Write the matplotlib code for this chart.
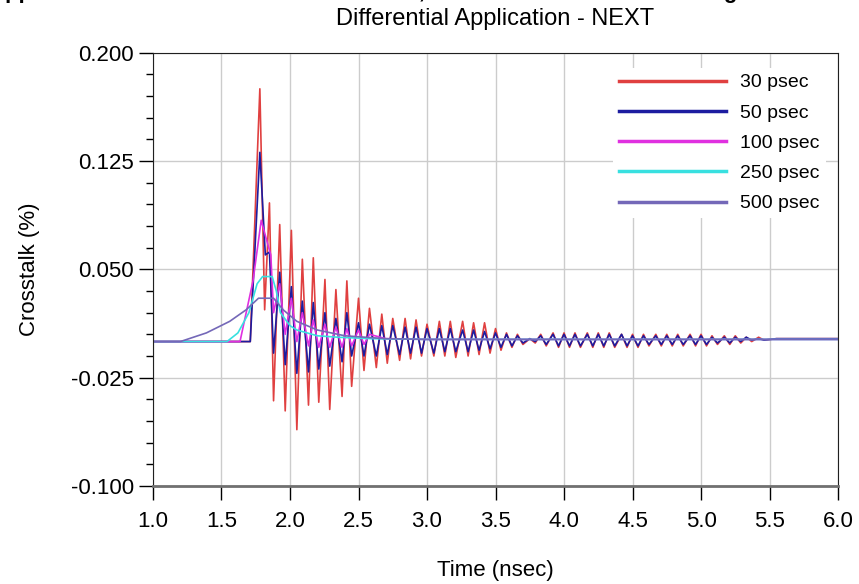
import matplotlib
matplotlib.use('Agg')
import matplotlib.pyplot as plt
from matplotlib.ticker import FixedLocator, FormatStrFormatter
import numpy as np

plt.rcParams['font.family'] = ['Liberation Sans', 'DejaVu Sans']

#%% data (time in nsec, crosstalk in %)
t_30 = [1.00, 1.71, 1.78, 1.815, 1.85, 1.88, 1.925, 1.965, 2.01, 2.05, 2.09, 2.135,
        2.17, 2.21, 2.255, 2.29, 2.335, 2.38, 2.415, 2.45, 2.50, 2.54, 2.58, 2.63,
        2.67, 2.71, 2.75, 2.80, 2.84, 2.88, 2.92, 2.96, 3.00, 3.05, 3.09, 3.13,
        3.17, 3.21, 3.26, 3.30, 3.34, 3.38, 3.42, 3.46, 3.50, 3.54]
v_30 = [0.0, 0.0, 0.175, 0.022, 0.096, -0.041, 0.081, -0.048, 0.077, -0.061, 0.057, -0.044,
        0.058, -0.042, 0.043, -0.047, 0.036, -0.038, 0.042, -0.031, 0.030, -0.020, 0.023, -0.018,
        0.019, -0.015, 0.016, -0.013, 0.016, -0.012, 0.015, -0.010, 0.012, -0.010, 0.014, -0.010,
        0.014, -0.011, 0.014, -0.010, 0.013, -0.009, 0.013, -0.008, 0.009, -0.006]

t_50 = [1.00, 1.71, 1.78, 1.82, 1.85, 1.88, 1.925, 1.965, 2.01, 2.05, 2.09, 2.135,
        2.17, 2.21, 2.255, 2.29, 2.335, 2.38, 2.415, 2.45, 2.50, 2.54, 2.58, 2.63,
        2.67, 2.71, 2.75, 2.80, 2.84, 2.88, 2.92, 2.96, 3.00, 3.05, 3.09, 3.13,
        3.17, 3.21, 3.26, 3.30, 3.34, 3.38, 3.42, 3.46, 3.50, 3.54]
v_50 = [0.0, 0.0, 0.131, 0.060, 0.062, -0.008, 0.048, -0.016, 0.038, -0.022, 0.028, -0.021,
        0.027, -0.019, 0.020, -0.017, 0.016, -0.014, 0.020, -0.010, 0.013, -0.010, 0.012, -0.010,
        0.011, -0.009, 0.011, -0.009, 0.010, -0.008, 0.010, -0.008, 0.009, -0.008, 0.009, -0.007,
        0.009, -0.007, 0.008, -0.007, 0.008, -0.006, 0.007, -0.005, 0.006, -0.004]

# ringing tail of the 30 and 50 psec traces after 3.55 nsec
t_tail = [3.58, 3.62, 3.66, 3.70, 3.75, 3.79, 3.83, 3.87, 3.92, 3.96, 4.00, 4.04,
          4.08, 4.12, 4.17, 4.21, 4.25, 4.29, 4.33, 4.37, 4.42, 4.46, 4.50, 4.54,
          4.58, 4.62, 4.67, 4.71, 4.75, 4.79, 4.83, 4.87, 4.92, 4.96, 5.00, 5.04,
          5.08, 5.12, 5.17, 5.21, 5.25, 5.29, 5.33, 5.37, 5.42, 5.46, 5.55, 6.00]
v_tail_30 = [0.006, -0.004, 0.005, -0.002, 0.002, -0.001, 0.005, -0.003, 0.006, -0.004, 0.006, -0.004,
             0.006, -0.004, 0.006, -0.004, 0.006, -0.004, 0.006, -0.004, 0.005, -0.004, 0.005, -0.004,
             0.005, -0.003, 0.005, -0.003, 0.005, -0.003, 0.005, -0.003, 0.005, -0.003, 0.005, -0.003,
             0.004, -0.002, 0.004, -0.002, 0.004, -0.001, 0.003, 0.000, 0.003, 0.001, 0.002, 0.002]
v_tail_50 = [0.005, -0.003, 0.004, -0.001, 0.002, 0.000, 0.004, -0.002, 0.005, -0.003, 0.005, -0.003,
             0.005, -0.003, 0.005, -0.003, 0.005, -0.003, 0.005, -0.003, 0.005, -0.003, 0.004, -0.003,
             0.004, -0.002, 0.004, -0.002, 0.004, -0.002, 0.004, -0.002, 0.004, -0.002, 0.004, -0.002,
             0.003, -0.001, 0.003, -0.001, 0.003, 0.000, 0.003, 0.001, 0.002, 0.001, 0.002, 0.002]

t_100 = [1.00, 1.635, 1.73, 1.79, 1.83, 1.86, 1.88, 1.925, 1.965, 2.01, 2.05, 2.09,
         2.135, 2.17, 2.21, 2.255, 2.29, 2.335, 2.38, 2.415, 2.45, 2.50, 2.54, 2.58,
         2.70, 3.00, 6.00]
v_100 = [0.0, 0.0, 0.042, 0.084, 0.070, 0.060, 0.020, 0.040, 0.005, 0.030, 0.000, 0.020,
         -0.003, 0.015, -0.004, 0.012, -0.004, 0.010, -0.004, 0.009, -0.003, 0.008, -0.002, 0.005,
         0.002, 0.0015, 0.0015]

t_250 = [1.00, 1.54, 1.62, 1.70, 1.76, 1.80, 1.87, 1.90, 1.93, 2.00, 2.05, 2.20, 2.35, 2.60, 3.00, 6.00]
v_250 = [0.0, 0.0, 0.006, 0.020, 0.040, 0.045, 0.045, 0.035, 0.020, 0.011, 0.008, 0.004, 0.003, 0.002, 0.0015, 0.0015]

t_500 = [1.00, 1.20, 1.39, 1.56, 1.68, 1.77, 1.88, 1.95, 2.05, 2.20, 2.40, 2.70, 3.00, 6.00]
v_500 = [0.0, 0.0, 0.006, 0.014, 0.022, 0.030, 0.030, 0.022, 0.014, 0.008, 0.004, 0.002, 0.0015, 0.0015]

labels = ['30 psec', '50 psec', '100 psec', '250 psec', '500 psec']
colors = ['#e04040', '#1c1ca0', '#e030e0', '#38e0e0', '#7468b8']

#%% plot
fig = plt.figure(figsize=(8.59, 5.84), dpi=100)
ax = fig.add_axes([0.1781, 0.1678, 0.7975, 0.7420])

series = [(t_30 + t_tail, v_30 + v_tail_30),
          (t_50 + t_tail, v_50 + v_tail_50),
          (t_100, v_100), (t_250, v_250), (t_500, v_500)]
for (tt, vv), lab, c in zip(series, labels, colors):
    ax.plot(tt, vv, c=c, lw=1.2, label=lab)

ax.set_xlim(1.0, 6.0)
ax.set_ylim(-0.1, 0.2)
ax.set_xticks(np.arange(1.0, 6.01, 0.5))
ax.set_yticks([-0.1, -0.025, 0.05, 0.125, 0.2])
ax.yaxis.set_minor_locator(FixedLocator(np.arange(-0.1, 0.2001, 0.015)))
ax.xaxis.set_major_formatter(FormatStrFormatter('%.1f'))
ax.yaxis.set_major_formatter(FormatStrFormatter('%.3f'))
ax.tick_params(axis='both', which='major', labelsize=16, length=10, width=1, direction='out')
ax.tick_params(axis='y', which='minor', length=5, width=1, direction='out')
ax.tick_params(axis='x', pad=8)
ax.grid(True, which='major', color='#cccccc', lw=1)
ax.set_axisbelow(True)
for s in ax.spines.values():
    s.set_color('#202020')
ax.spines['bottom'].set_color('#707070')
ax.spines['bottom'].set_linewidth(2)

ax.set_xlabel('Time (nsec)', fontsize=16)
ax.xaxis.set_label_coords(0.5, -0.17)
ax.set_ylabel('Crosstalk (%)', fontsize=16)
ax.yaxis.set_label_coords(-0.165, 0.5)
ax.set_title('Differential Application - NEXT', fontsize=17, pad=20)

leg = ax.legend(loc='upper left', bbox_to_anchor=(0.6715, 0.9647), fontsize=14,
                frameon=True, edgecolor='none', facecolor='white', framealpha=1,
                borderpad=0.3, borderaxespad=0, handlelength=5.5, handletextpad=0.75,
                labelspacing=0.65, fancybox=False)
for h in leg.get_lines():
    h.set_linewidth(2.5)

# cut-off heading above the figure, only its descenders show
fig.text(-0.013, 1.004, 'Application Note: Measured Test Results, Differential Crosstalk Testing',
         fontsize=16, fontweight='bold', ha='left', va='baseline')

fig.savefig('out.png', dpi=100)
